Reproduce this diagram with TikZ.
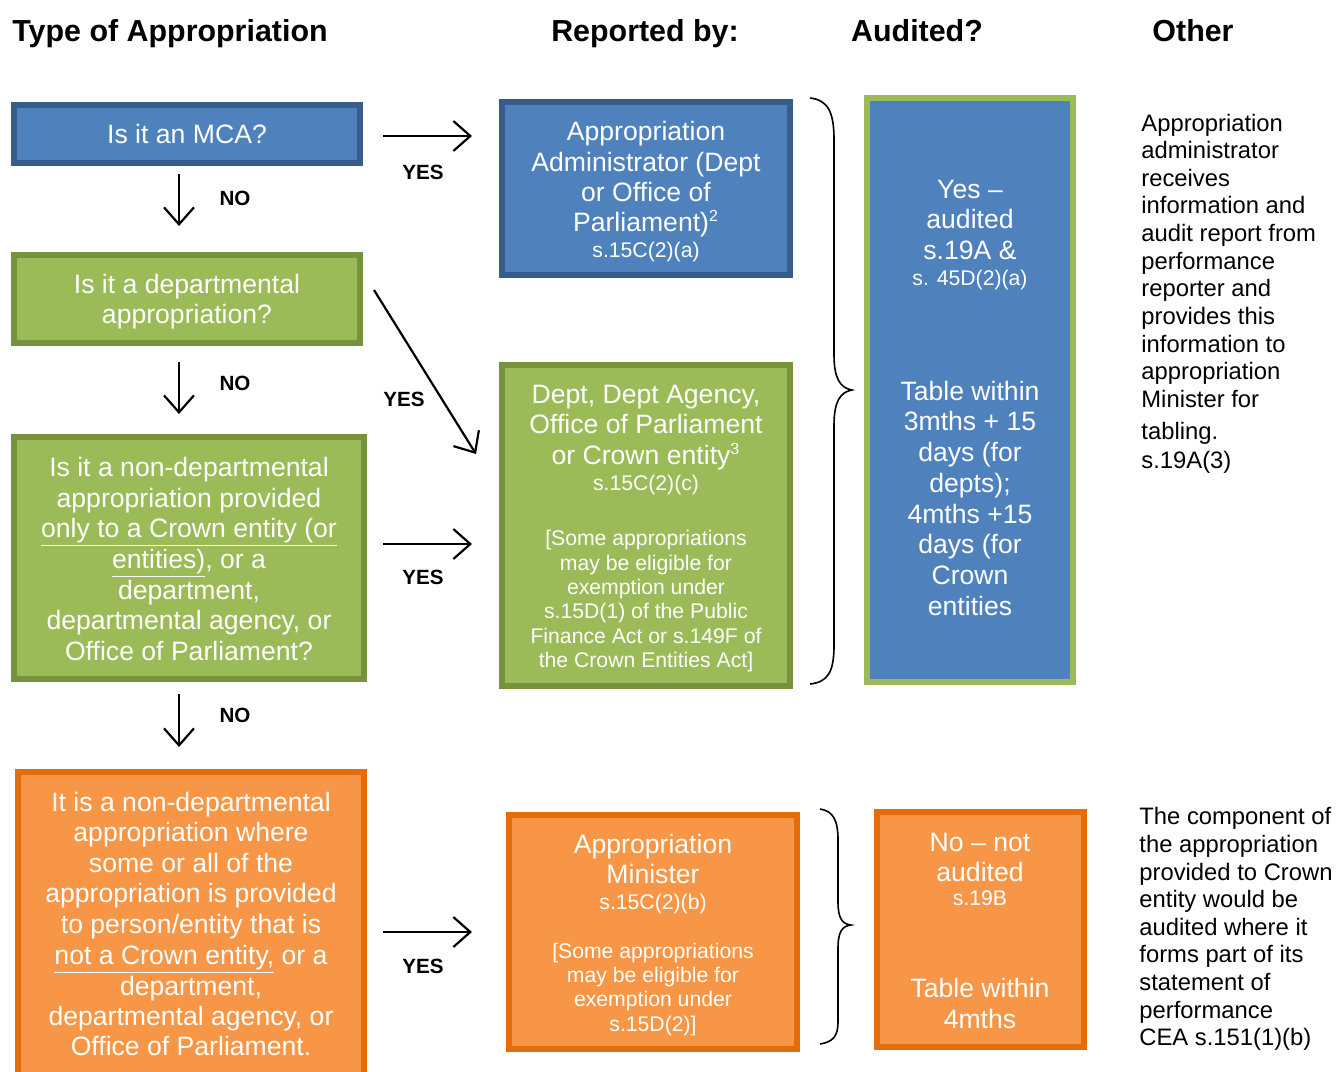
\documentclass[tikz,border=0pt]{standalone}
\usepackage{fontspec}
\setmainfont{Liberation Sans}
\usetikzlibrary{arrows.meta,calc}
\definecolor{bfill}{HTML}{4F81BD}
\definecolor{bline}{HTML}{385D8A}
\definecolor{gfill}{HTML}{9BBB59}
\definecolor{gline}{HTML}{76923C}
\definecolor{ofill}{HTML}{F79646}
\definecolor{oline}{HTML}{E46C0A}
\newcommand\myBig{\fontsize{13.3}{15.2}\selectfont}
\newcommand\mySmall{\fontsize{10.6}{12.2}\selectfont}
\newcommand\myHead{\bfseries\fontsize{15.2}{18}\selectfont}
\newcommand\myLab{\bfseries\fontsize{10.3}{12}\selectfont}
\newcommand\mySide{\fontsize{11.9}{13.8}\selectfont}
\newcommand\mySup[1]{\textsuperscript{\fontsize{8}{9}\selectfont #1}}
\newcommand\boxlines[4]{%
  \foreach \myY/\myT [count=\myI] in {#4} {\node[#2] (#1-\myI) at (#3,\myY) {\myT};}%
}
\begin{document}
\begin{tikzpicture}[x=0.5pt,y=-0.5pt,
  bluebox/.style={draw=bline, fill=bfill, line width=3pt, inner sep=0pt},
  greenbox/.style={draw=gline, fill=gfill, line width=3pt, inner sep=0pt},
  orangebox/.style={draw=oline, fill=ofill, line width=3pt, inner sep=0pt},
  auditbox/.style={draw=gfill, fill=bfill, line width=3pt, inner sep=0pt},
  wbig/.style={font=\myBig, text=white, anchor=base, yshift=-4.75pt, inner sep=0pt},
  wsmall/.style={font=\mySmall, text=white, anchor=base, yshift=-3.8pt, inner sep=0pt},
  side/.style={font=\mySide, anchor=base west, yshift=-4.25pt, inner sep=0pt},
  head/.style={font=\myHead, inner sep=0pt},
  lab/.style={font=\myLab, inner sep=0pt},
  arr/.style={line width=1.1pt, -{Straight Barb[length=8.5pt,width=15pt,line width=1.1pt]}},
  bracestyle/.style={line width=0.8pt}
]
\useasboundingbox (0,0) rectangle (1336,1071);
\fill[white] (0,0) rectangle (1336,1071);
\clip (0,0) rectangle (1336,1071);

% headers
\node[head, anchor=base west] (h1) at (12,41) {Type of Appropriation};
\node[head, anchor=base] (h2) at (645,41) {Reported by:};
\node[head, anchor=base] (h3) at (917,41) {Audited?};
\node[head, anchor=base] (h4) at (1193,41) {Other};

% left column boxes
\node[bluebox, minimum width=173pt, minimum height=29pt] (mca) at (187,134) {};
\node[greenbox, minimum width=173pt, minimum height=44pt] (dept) at (187,299) {};
\node[greenbox, minimum width=175pt, minimum height=121pt] (nondept) at (189,558) {};
\node[orangebox, minimum width=173pt, minimum height=152.5pt] (other) at (191,924.5) {};

% middle column boxes
\node[bluebox, minimum width=144pt, minimum height=86.5pt] (aa) at (646,188.5) {};
\node[greenbox, minimum width=144pt, minimum height=160.5pt] (dg) at (646,525.5) {};
\node[orangebox, minimum width=144pt, minimum height=117pt] (minister) at (653,932) {};

% audited boxes
\node[auditbox, minimum width=103pt, minimum height=292pt] (aud) at (970,390) {};
\node[orangebox, minimum width=103.5pt, minimum height=117.5pt] (noaud) at (980.5,929.5) {};

% texts in boxes
\boxlines{tmca}{wbig}{187}{134/Is it an MCA?}
\boxlines{tdept}{wbig}{187}{284/Is it a departmental, 314/appropriation?}
\boxlines{tnd}{wbig}{189}{467/Is it a non-departmental, 498/appropriation provided,
  528/{\underline{only to a Crown entity (or}}, 559/{\underline{entities)}, or a},
  590/{department,}, 620/{departmental agency, or}, 651/Office of Parliament?}
\boxlines{tot}{wbig}{191}{802/It is a non-departmental, 832/appropriation where,
  863/some or all of the, 893/appropriation is provided, 924/{to person/entity that is},
  955/{\underline{not a Crown entity,} or a}, 986/{department,},
  1016/{departmental agency, or}, 1046/Office of Parliament.}

\boxlines{taa}{wbig}{646}{131/Appropriation, 162/Administrator (Dept, 192/or Office of,
  222/{Parliament)\mySup{2}}}
\boxlines{taas}{wsmall}{646}{250/s.15C(2)(a)}

\boxlines{tdg}{wbig}{646}{394/{Dept, Dept Agency,}, 424/Office of Parliament,
  455/{or Crown entity\mySup{3}}}
\boxlines{tdgs}{wsmall}{646}{483/s.15C(2)(c), 538/{[Some appropriations}, 563/may be eligible for,
  587/exemption under, 611/s.15D(1) of the Public, 636/Finance Act or s.149F of,
  660/{the Crown Entities Act]}}

\boxlines{tmi}{wbig}{653}{844/Appropriation, 874/Minister}
\boxlines{tmis}{wsmall}{653}{902/s.15C(2)(b), 951/{[Some appropriations}, 975/may be eligible for,
  999/exemption under, 1024/{s.15D(2)]}}

\boxlines{tau}{wbig}{970}{189/Yes –, 219/audited, 250/s.19A \&, 391/Table within,
  421/3mths + 15, 452/days (for, 483/depts);, 514/4mths +15, 544/days (for,
  575/Crown, 606/entities}
\boxlines{taus}{wsmall}{970}{278/s. 45D(2)(a)}

\boxlines{tna}{wbig}{980}{842/No – not, 872/audited, 988/Table within, 1019/4mths}
\boxlines{tnas}{wsmall}{980}{898/s.19B}

% right-hand notes
\boxlines{r1}{side}{1141}{123/Appropriation, 150/administrator, 178/receives,
  205/information and, 233/audit report from, 261/performance, 288/reporter and,
  316/provides this, 344/information to, 371/appropriation, 399/Minister for,
  431/tabling., 460/s.19A(3)}
\boxlines{r2}{side}{1139}{816/The component of, 844/the appropriation, 872/provided to Crown,
  899/entity would be, 927/audited where it, 954/forms part of its, 982/statement of,
  1010/performance, 1037/CEA s.151(1)(b)}

% arrows
\draw[arr] ($(mca.east)+(20,2)$) -- ($(mca.east -| aa.west)+(-27,2)$);
\draw[arr] ($(dept.east)+(11,-9)$) -- ($(dg.west)+(-23,-71.5)$);
\draw[arr] ($(nondept.east)+(16,-14)$) -- ($(nondept.east -| dg.west)+(-27,-14)$);
\draw[arr] ($(other.east)+(16,7.5)$) -- ($(other.east -| minister.west)+(-34,7.5)$);

\draw[arr] ($(mca.south)+(-8,8)$) -- ($(dept.north)+(-8,-26)$);
\draw[arr] ($(dept.south)+(-8,16)$) -- ($(nondept.north)+(-10,-20)$);
\draw[arr] ($(nondept.south)+(-10,12)$) -- ($(other.north)+(-12,-22)$);

% labels
\node[lab] (y1) at (423,172) {YES};
\node[lab] (y2) at (404,399) {YES};
\node[lab] (y3) at (423,577) {YES};
\node[lab] (y4) at (423,966) {YES};
\node[lab] (n1) at (235,198) {NO};
\node[lab] (n2) at (235,383) {NO};
\node[lab] (n3) at (235,715) {NO};

% braces
\draw[bracestyle] (810,98) .. controls (828,100) and (834,112) .. (834,140)
  -- (834,355) .. controls (834,378) and (840,388) .. (852,390)
  .. controls (840,392) and (834,402) .. (834,425)
  -- (834,645) .. controls (834,672) and (828,682) .. (810,684);
\draw[bracestyle] (820,809) .. controls (833,811) and (838,820) .. (838,840)
  -- (838,902) .. controls (838,918) and (842,924) .. (851,925)
  .. controls (842,926) and (838,932) .. (838,948)
  -- (838,1022) .. controls (838,1036) and (833,1042) .. (820,1044);
\end{tikzpicture}
\end{document}
